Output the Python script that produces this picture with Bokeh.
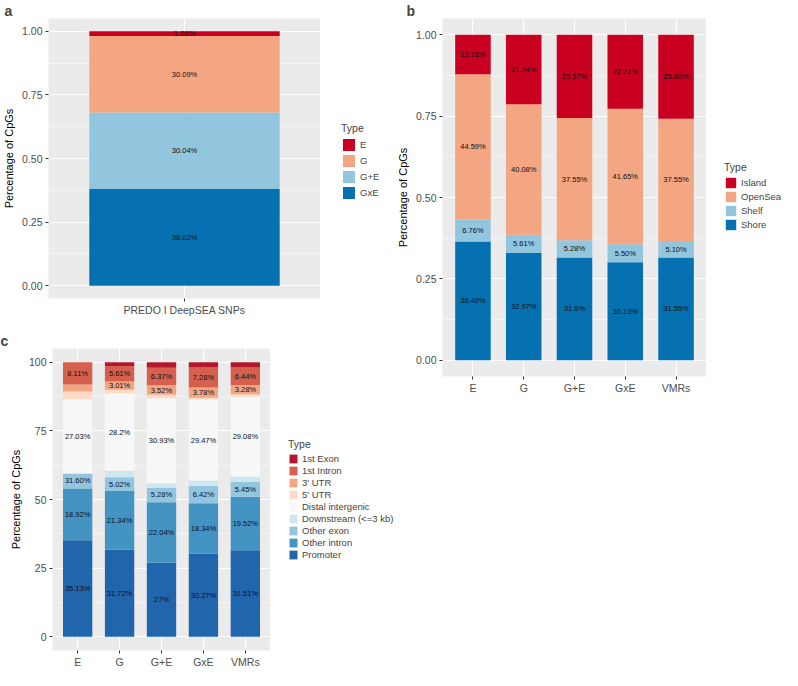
from bokeh.plotting import figure
from bokeh.models import (ColumnDataSource, FixedTicker, Range1d, FactorRange, Legend,
                          LegendItem, PrintfTickFormatter)
from bokeh.layouts import row, column
from bokeh.core.properties import value
from bokeh.embed import file_html
from bokeh.resources import INLINE

FONT = "Liberation Sans"

# ---------------- data: panel a ----------------
a_cats = ["PREDO I DeepSEA SNPs"]
a_types = ["GxE", "G+E", "G", "E"]          # stacking order, bottom -> top
a_gxe = [0.3802]
a_ge = [0.3004]
a_g = [0.3009]
a_e = [0.0186]
a_lab_gxe = ["38.02%"]
a_lab_ge = ["30.04%"]
a_lab_g = ["30.09%"]
a_lab_e = ["1.86%"]

# ---------------- data: panel b ----------------
b_cats = ["E", "G", "G+E", "GxE", "VMRs"]
b_types = ["Shore", "Shelf", "OpenSea", "Island"]   # bottom -> top
b_shore = [0.3649, 0.3297, 0.3160, 0.3013, 0.3155]
b_shelf = [0.0676, 0.0561, 0.0528, 0.0550, 0.0510]
b_opensea = [0.4459, 0.4008, 0.3755, 0.4165, 0.3755]
b_island = [0.1216, 0.2134, 0.2557, 0.2272, 0.2580]
b_lab_shore = ["36.49%", "32.97%", "31.6%", "30.13%", "31.55%"]
b_lab_shelf = ["6.76%", "5.61%", "5.28%", "5.50%", "5.10%"]
b_lab_opensea = ["44.59%", "40.08%", "37.55%", "41.65%", "37.55%"]
b_lab_island = ["12.16%", "21.34%", "25.57%", "22.72%", "25.80%"]

# ---------------- data: panel c ----------------
c_cats = ["E", "G", "G+E", "GxE", "VMRs"]
c_types = ["Promoter", "Other intron", "Other exon", "Downstream (<=3 kb)",
           "Distal intergenic", "5' UTR", "3' UTR", "1st Intron", "1st Exon"]  # bottom -> top
c_promoter = [35.13, 31.72, 27.00, 30.27, 31.51]
c_other_intron = [18.92, 21.34, 22.04, 18.34, 19.52]
c_other_exon = [5.40, 5.02, 5.28, 6.42, 5.45]
c_downstream = [0.00, 2.40, 1.60, 1.90, 1.90]
c_distal = [27.03, 28.20, 30.93, 29.47, 29.08]
c_utr5 = [2.90, 1.30, 1.26, 0.64, 0.92]
c_utr3 = [2.51, 3.01, 3.52, 3.78, 3.28]
c_intron1 = [8.11, 5.61, 6.37, 7.28, 6.44]
c_exon1 = [0.00, 1.40, 2.00, 1.90, 1.90]
c_lab_promoter = ["35.13%", "31.72%", "27%", "30.27%", "31.51%"]
c_lab_other_intron = ["18.92%", "21.34%", "22.04%", "18.34%", "19.52%"]
c_lab_other_exon = ["31.60%", "5.02%", "5.28%", "6.42%", "5.45%"]
c_lab_downstream = ["", "", "", "", ""]
c_lab_distal = ["27.03%", "28.2%", "30.93%", "29.47%", "29.08%"]
c_lab_utr5 = ["", "", "", "", ""]
c_lab_utr3 = ["", "3.01%", "3.52%", "3.78%", "3.28%"]
c_lab_intron1 = ["8.11%", "5.61%", "6.37%", "7.28%", "6.44%"]
c_lab_exon1 = ["", "", "", "", ""]

RDBU4 = ["#0571B0", "#92C5DE", "#F4A582", "#CA0020"]     # bottom -> top
RDBU9 = ["#2166AC", "#4393C3", "#92C5DE", "#D1E5F0", "#F7F7F7",
         "#FDDBC7", "#F4A582", "#D6604D", "#B2182B"]       # bottom -> top


def make_fig(cats, width, height, left, bottom, ymax, yticks, minor, fmt, letter):
    p = figure(x_range=FactorRange(*cats, range_padding=0.2 / len(cats)),
               y_range=Range1d(-0.05 * ymax, 1.05 * ymax),
               width=width, height=height, output_backend="svg", toolbar_location=None,
               min_border_left=left, min_border_right=0, min_border_top=6,
               min_border_bottom=bottom, title=letter)
    p.title.text_font = FONT
    p.title.text_font_style = "bold"
    p.title.text_font_size = "14px"
    p.title.align = "left"
    p.title.offset = -left
    p.title.standoff = 0
    p.background_fill_color = "#EBEBEB"
    p.border_fill_color = "white"
    p.outline_line_color = None
    p.yaxis.ticker = FixedTicker(ticks=yticks, minor_ticks=minor)
    p.yaxis.formatter = PrintfTickFormatter(format=fmt)
    for ax in (p.xaxis, p.yaxis):
        ax.axis_line_color = None
        ax.major_tick_line_color = "#333333"
        ax.major_tick_in = 0
        ax.major_tick_out = 3
        ax.minor_tick_line_color = None
        ax.major_label_text_font = FONT
        ax.major_label_text_font_size = "10.5px"
        ax.major_label_text_color = "#4D4D4D"
        ax.major_label_standoff = 2
    p.yaxis.axis_label = "Percentage of CpGs"
    p.yaxis.axis_label_text_font = FONT
    p.yaxis.axis_label_text_font_size = "11px"
    p.yaxis.axis_label_text_font_style = "normal"
    p.yaxis.axis_label_text_color = "black"
    p.yaxis.axis_label_standoff = 4
    p.xgrid.grid_line_color = "white"
    p.xgrid.grid_line_width = 1
    p.ygrid.grid_line_color = "white"
    p.ygrid.grid_line_width = 1
    p.ygrid.minor_grid_line_color = "white"
    p.ygrid.minor_grid_line_width = 0.5
    return p


def stack(p, cats, names, series, labels, colors, bar_width):
    data = {"cat": cats}
    for n, s in zip(names, series):
        data[n] = s
    src = ColumnDataSource(data)
    p.vbar_stack(names, x="cat", width=bar_width, fill_color=colors,
                 line_color=None, source=src)
    tx, ty, tt = [], [], []
    base = [0.0] * len(cats)
    for s, lab in zip(series, labels):
        for i, c in enumerate(cats):
            if lab[i]:
                tx.append(c)
                ty.append(base[i] + s[i] / 2.0)
                tt.append(lab[i])
            base[i] += s[i]
    tsrc = ColumnDataSource(dict(x=tx, y=ty, t=tt))
    p.text(x="x", y="y", text="t", source=tsrc, text_font=value(FONT),
           text_font_size="7.5px", text_align="center", text_baseline="middle",
           text_color="#111111")
    return src


def legend_fig(cats, names, src, colors, ymax, width, height, gw, gh, loc):
    # legend-only panel: zero-width copies of the stacked bars, outside its y range
    lf = figure(width=width, height=height, x_range=FactorRange(*cats),
                y_range=Range1d(-3 * ymax, -2 * ymax),
                output_backend="svg", toolbar_location=None,
                x_axis_location=None, y_axis_location=None, min_border=0)
    lf.grid.visible = False
    lf.outline_line_color = None
    lf.background_fill_color = "white"
    lf.border_fill_color = "white"
    rs = lf.vbar_stack(names, x="cat", width=0.0, fill_color=colors,
                       line_color=None, source=src)
    items = [LegendItem(label=value(n), renderers=[r])
             for n, r in reversed(list(zip(names, rs)))]
    lg = Legend(items=items, title="Type", location=loc,
                title_text_font=FONT, title_text_font_size="10.5px",
                title_text_font_style="normal", title_standoff=3,
                label_text_font=FONT, label_text_font_size="9.5px",
                glyph_width=gw, glyph_height=gh, label_height=gh, spacing=1,
                label_standoff=4, padding=0, margin=0,
                border_line_color=None, background_fill_alpha=0)
    lf.add_layout(lg, "center")
    return lf


# ---- panel a ----
pa = make_fig(a_cats, 320, 330, 44, 32, 1.0,
              [0, 0.25, 0.5, 0.75, 1.0], [0.125, 0.375, 0.625, 0.875], "%.2f", "a")
sa = stack(pa, a_cats, a_types, [a_gxe, a_ge, a_g, a_e],
           [a_lab_gxe, a_lab_ge, a_lab_g, a_lab_e], RDBU4, 0.84)
la = legend_fig(a_cats, a_types, sa, RDBU4, 1.0, 74, 330, 15, 15, (21, 98))

# ---- panel c ----
pc = make_fig(c_cats, 270, 340, 52, 18, 100,
              [0, 25, 50, 75, 100], [12.5, 37.5, 62.5, 87.5], "%d", "c")
sc = stack(pc, c_cats, c_types,
           [c_promoter, c_other_intron, c_other_exon, c_downstream, c_distal,
            c_utr5, c_utr3, c_intron1, c_exon1],
           [c_lab_promoter, c_lab_other_intron, c_lab_other_exon, c_lab_downstream,
            c_lab_distal, c_lab_utr5, c_lab_utr3, c_lab_intron1, c_lab_exon1],
           RDBU9, 0.7)
lc = legend_fig(c_cats, c_types, sc, RDBU9, 100, 124, 340, 10, 11, (18, 90))

# ---- panel b ----
pb = make_fig(b_cats, 312, 400, 36, 24, 1.0,
              [0, 0.25, 0.5, 0.75, 1.0], [0.125, 0.375, 0.625, 0.875], "%.2f", "b")
sb = stack(pb, b_cats, b_types, [b_shore, b_shelf, b_opensea, b_island],
           [b_lab_shore, b_lab_shelf, b_lab_opensea, b_lab_island], RDBU4, 0.7)
lb = legend_fig(b_cats, b_types, sb, RDBU4, 1.0, 76, 400, 13, 13, (18, 145))

layout = row(column(row(pa, la), row(pc, lc)), row(pb, lb))
open("out.html", "w").write(file_html(layout, INLINE))
